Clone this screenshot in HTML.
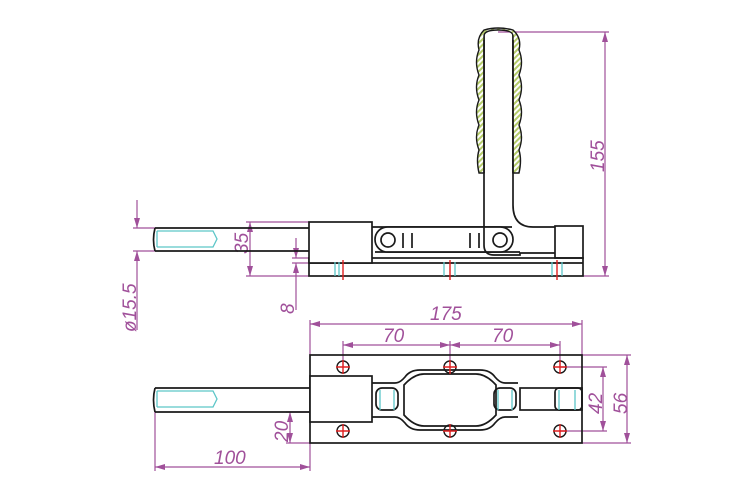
<!DOCTYPE html>
<html><head><style>body{margin:0;background:#fff}svg{display:block}text{font-family:"Liberation Sans",sans-serif;font-style:italic;fill:#a0509a;font-size:19px}</style></head>
<body>
<svg width="750" height="500" viewBox="0 0 750 500" xmlns="http://www.w3.org/2000/svg">
<defs>
<marker id="a" viewBox="0 0 10 6" refX="10" refY="3" markerWidth="10" markerHeight="6" orient="auto-start-reverse" markerUnits="userSpaceOnUse"><path d="M0,0L10,3L0,6z" fill="#a0509a"/></marker>
<pattern id="h" width="4" height="4" patternUnits="userSpaceOnUse" patternTransform="rotate(45)"><rect width="4" height="4" fill="#fff"/><rect width="2" height="4" fill="#b5cc6a"/></pattern>
</defs>
<g stroke="#a0509a" stroke-width="1.2" fill="none">
<line x1="137" y1="200" x2="137" y2="228" marker-end="url(#a)"/>
<line x1="137" y1="330" x2="137" y2="251" marker-end="url(#a)"/>
<line x1="133" y1="228" x2="155" y2="228"/><line x1="133" y1="251" x2="155" y2="251"/>
<line x1="250" y1="222" x2="250" y2="276" marker-start="url(#a)" marker-end="url(#a)"/>
<line x1="246" y1="222" x2="309" y2="222"/><line x1="246" y1="276" x2="309" y2="276"/>
<line x1="296" y1="238" x2="296" y2="258" marker-end="url(#a)"/>
<line x1="296" y1="310" x2="296" y2="263" marker-end="url(#a)"/>
<line x1="292" y1="258" x2="309" y2="258"/><line x1="292" y1="263" x2="309" y2="263"/>
<line x1="605" y1="32" x2="605" y2="276" marker-start="url(#a)" marker-end="url(#a)"/>
<line x1="498" y1="32" x2="609" y2="32"/><line x1="583" y1="276" x2="609" y2="276"/>
<line x1="310" y1="324" x2="582" y2="324" marker-start="url(#a)" marker-end="url(#a)"/>
<line x1="310" y1="320" x2="310" y2="355"/><line x1="582" y1="320" x2="582" y2="355"/>
<line x1="343" y1="345" x2="450" y2="345" marker-start="url(#a)" marker-end="url(#a)"/>
<line x1="450" y1="345" x2="560" y2="345" marker-start="url(#a)" marker-end="url(#a)"/>
<line x1="343" y1="341" x2="343" y2="367"/><line x1="450" y1="341" x2="450" y2="367"/><line x1="560" y1="341" x2="560" y2="367"/>
<line x1="603" y1="367" x2="603" y2="431" marker-start="url(#a)" marker-end="url(#a)"/>
<line x1="560" y1="367" x2="607" y2="367"/><line x1="560" y1="431" x2="607" y2="431"/>
<line x1="627" y1="355" x2="627" y2="443" marker-start="url(#a)" marker-end="url(#a)"/>
<line x1="582" y1="355" x2="631" y2="355"/><line x1="582" y1="443" x2="631" y2="443"/>
<line x1="290" y1="412" x2="290" y2="443" marker-start="url(#a)" marker-end="url(#a)"/>
<line x1="286" y1="412" x2="310" y2="412"/><line x1="286" y1="443" x2="310" y2="443"/>
<line x1="155" y1="467" x2="310" y2="467" marker-start="url(#a)" marker-end="url(#a)"/>
<line x1="155" y1="412" x2="155" y2="471"/><line x1="310" y1="443" x2="310" y2="471"/>
</g>
<text transform="translate(136,332) rotate(-90)">ø15.5</text>
<text transform="translate(248,254) rotate(-90)">35</text>
<text transform="translate(294,314) rotate(-90)">8</text>
<text transform="translate(604,172) rotate(-90)">155</text>
<text x="430" y="320">175</text>
<text x="383" y="342">70</text>
<text x="492" y="342">70</text>
<text transform="translate(602,414) rotate(-90)">42</text>
<text transform="translate(627,414) rotate(-90)">56</text>
<text transform="translate(288,442) rotate(-90)">20</text>
<text x="214" y="464">100</text>

<g stroke="#1a1a1a" stroke-width="1.7" fill="none">
<rect x="309" y="258" width="274" height="18"/><line x1="309" y1="263" x2="583" y2="263"/>
<path d="M155,228H309M155,251H309M155,228Q152,240 155,251"/>
<rect x="309" y="222" width="63" height="41" fill="#fff"/>
<rect x="555" y="226" width="28" height="32"/>
<path d="M372,227H512M375,252H520" />
<rect x="375" y="227" width="138" height="25" rx="12.5" fill="#fff"/>
<circle cx="388" cy="240" r="7"/><circle cx="500" cy="240" r="7"/>
<path d="M403,233V248M412,233V248M470,233V248M479,233V248"/>
<path d="M484,32V245Q484,255 494,255H520V253H555M513,32V205Q513,227 533,227H555"/>
<rect x="310" y="355" width="272" height="88"/>
<path d="M155,388H310M155,412H310M155,388Q152,400 155,412"/>
<rect x="310" y="376" width="62" height="46" fill="#fff"/>
<path d="M372,383H395Q400,383 405,377Q410,370 420,370H480Q490,370 495,377Q500,383 505,383H518M372,417H395Q400,417 405,423Q410,430 420,430H480Q490,430 495,423Q500,417 505,417H518"/>
<path d="M404,385Q414,374 424,374H476Q486,374 496,385V415Q486,426 476,426H424Q414,426 404,415Z"/>
<rect x="376" y="388" width="22" height="22" rx="6"/><rect x="494" y="388" width="22" height="22" rx="6"/>
<rect x="520" y="388" width="62" height="22"/><rect x="555" y="388" width="27" height="22" rx="4"/>
</g>
<g fill="none" stroke="#1a1a1a" stroke-width="1.4">
<circle cx="343" cy="367" r="6"/><circle cx="450" cy="367" r="6"/><circle cx="560" cy="367" r="6"/>
<circle cx="343" cy="431" r="6"/><circle cx="450" cy="431" r="6"/><circle cx="560" cy="431" r="6"/>
</g>
<g stroke="#e02020" stroke-width="1.4">
<path d="M336,367h14M343,360v14M443,367h14M450,360v14M553,367h14M560,360v14M336,431h14M343,424v14M443,431h14M450,424v14M553,431h14M560,424v14"/>
<path d="M343,260v20M450,260v20M557,260v20"/>
</g>
<g stroke="#5cc6c8" stroke-width="1.3" fill="none">
<path d="M335,262v14M339,262v14M444,262v14M455,262v14M552,262v14M562,262v14"/>
<path d="M157,231H213L217,239L213,247H157M157,231V247"/>
<path d="M157,391H213L217,399L213,407H157M157,391V407"/>
<path d="M380,390v20M394,390v20M498,390v20M512,390v20M559,390v20M575,390v20"/>
</g>
<path d="M484,173V36Q484,30 498,30Q513,30 513,36V173H519Q522,160 519,150Q524,137 519,125Q524,112 519,100Q524,87 519,75Q524,62 519,50Q522,38 513,30Q498,26 484,30Q476,38 479,50Q474,62 479,75Q474,87 479,100Q474,112 479,125Q474,137 479,150Q476,160 479,173Z" fill="url(#h)" stroke="#1a1a1a" stroke-width="1.4"/>
<path d="M484,40V173M513,40V173" stroke="#1a1a1a" stroke-width="1.7"/>
</svg>
</body></html>
